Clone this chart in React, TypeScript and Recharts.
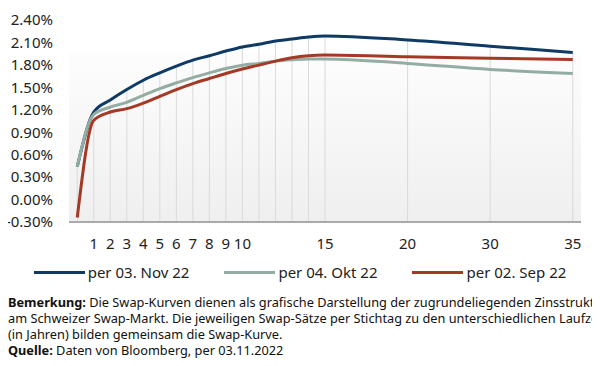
import React from "react";
import {
  ComposedChart,
  Line,
  XAxis,
  YAxis,
  ReferenceLine,
  ReferenceArea,
} from "recharts";

// Laufzeiten in Jahren (0 = kurzes Ende)
const years = [0, 1, 2, 3, 4, 5, 6, 7, 8, 9, 10, 11, 12, 13, 14, 15, 20, 30, 35];
const labeledYears = [1, 2, 3, 4, 5, 6, 7, 8, 9, 10, 15, 20, 30, 35];

const nov22 = [0.44, 1.17, 1.33, 1.47, 1.595, 1.693, 1.783, 1.864, 1.922, 1.985, 2.04, 2.075, 2.12, 2.146, 2.173, 2.187, 2.133, 2.05, 1.967];
const okt22 = [0.44, 1.14, 1.236, 1.3, 1.393, 1.483, 1.559, 1.63, 1.693, 1.752, 1.795, 1.82, 1.85, 1.868, 1.88, 1.88, 1.82, 1.74, 1.685];
const sep22 = [-0.24, 1.06, 1.17, 1.215, 1.29, 1.38, 1.47, 1.55, 1.618, 1.685, 1.745, 1.797, 1.85, 1.895, 1.922, 1.931, 1.908, 1.89, 1.873];

const yTicks = [-0.3, 0, 0.3, 0.6, 0.9, 1.2, 1.5, 1.8, 2.1, 2.4];

const series = [
  { key: "nov", name: "per 03. Nov 22", color: "#0e3a63" },
  { key: "okt", name: "per 04. Okt 22", color: "#94ada3" },
  { key: "sep", name: "per 02. Sep 22", color: "#a43a25" },
];

// axis slot: years up to 15 are one slot each, longer ones five slots apart
const slotOf = (i: number) => (i <= 15 ? years[i] : 15 + (i - 15) * 5);

const data = years.map((y, i) => ({
  year: y,
  slot: slotOf(i),
  nov: nov22[i],
  okt: okt22[i],
  sep: sep22[i],
}));

const tickSlots = labeledYears.map((y) => data.find((d) => d.year === y)!.slot);
const slotLabel = (s: number) => {
  const d = data.find((p) => p.slot === s);
  return d ? String(d.year) : "";
};

const font = "'Noto Sans', 'Open Sans', sans-serif";

export default function App() {
  return (
    <div style={{ width: 584, fontFamily: font, color: "#222" }}>
      <ComposedChart
        width={584}
        height={250}
        data={data}
        margin={{ top: 12, right: 11, left: 0, bottom: 0 }}
      >
        <defs>
          <linearGradient id="plotBg" x1="0" y1="0" x2="0" y2="1">
            <stop offset="0%" stopColor="#fdfdfd" />
            <stop offset="100%" stopColor="#efefef" />
          </linearGradient>
        </defs>
        <ReferenceArea
          x1={-0.5}
          x2={30.5}
          y1={-0.3}
          y2={1.96}
          fill="url(#plotBg)"
          fillOpacity={1}
          stroke="none"
        />
        {data.map((d) => (
          <ReferenceLine
            key={d.slot}
            segment={[
              { x: d.slot, y: -0.3 },
              { x: d.slot, y: d.nov },
            ]}
            stroke="#dadada"
            strokeWidth={1}
          />
        ))}
        <XAxis
          type="number"
          dataKey="slot"
          domain={[-0.5, 30.5]}
          ticks={tickSlots}
          tickFormatter={slotLabel}
          interval={0}
          height={36}
          tickLine={false}
          tickSize={0}
          tickMargin={16}
          axisLine={{ stroke: "#aaaaaa", strokeWidth: 2 }}
          tick={{ fontSize: 15, fill: "#222", fontFamily: font }}
        />
        <YAxis
          type="number"
          domain={[-0.3, 2.4]}
          ticks={yTicks}
          interval={0}
          width={61}
          axisLine={false}
          tickLine={false}
          tickSize={0}
          tickMargin={16}
          tickFormatter={(v: number) => `${v.toFixed(2)}%`}
          tick={{ fontSize: 15, fill: "#222", fontFamily: font }}
        />
        {series.map((s) => (
          <Line
            key={s.key}
            type="monotone"
            dataKey={s.key}
            name={s.name}
            stroke={s.color}
            strokeWidth={3}
            dot={false}
            activeDot={false}
            isAnimationActive={false}
          />
        ))}
      </ComposedChart>
      <div
        style={{
          height: 28,
          display: "flex",
          justifyContent: "center",
          alignItems: "center",
          gap: 35,
          fontSize: 15,
        }}
      >
        {series.map((s) => (
          <div key={s.key} style={{ display: "flex", alignItems: "center" }}>
            <span
              style={{
                display: "inline-block",
                width: 51,
                height: 3,
                background: s.color,
                marginRight: 3,
              }}
            />
            <span>{s.name}</span>
          </div>
        ))}
      </div>
      <div
        style={{
          marginTop: 8,
          width: 592,
          overflow: "hidden",
          whiteSpace: "nowrap",
          fontSize: 12.75,
          lineHeight: "16px",
          color: "#111",
        }}
      >
        <div>
          <b>Bemerkung:</b> Die Swap-Kurven dienen als grafische Darstellung der
          zugrundeliegenden Zinsstruktur
        </div>
        <div>
          am Schweizer Swap-Markt. Die jeweiligen Swap-Sätze per Stichtag zu den
          unterschiedlichen Laufzeiten
        </div>
        <div>(in Jahren) bilden gemeinsam die Swap-Kurve.</div>
        <div>
          <b>Quelle:</b> Daten von Bloomberg, per 03.11.2022
        </div>
      </div>
    </div>
  );
}
